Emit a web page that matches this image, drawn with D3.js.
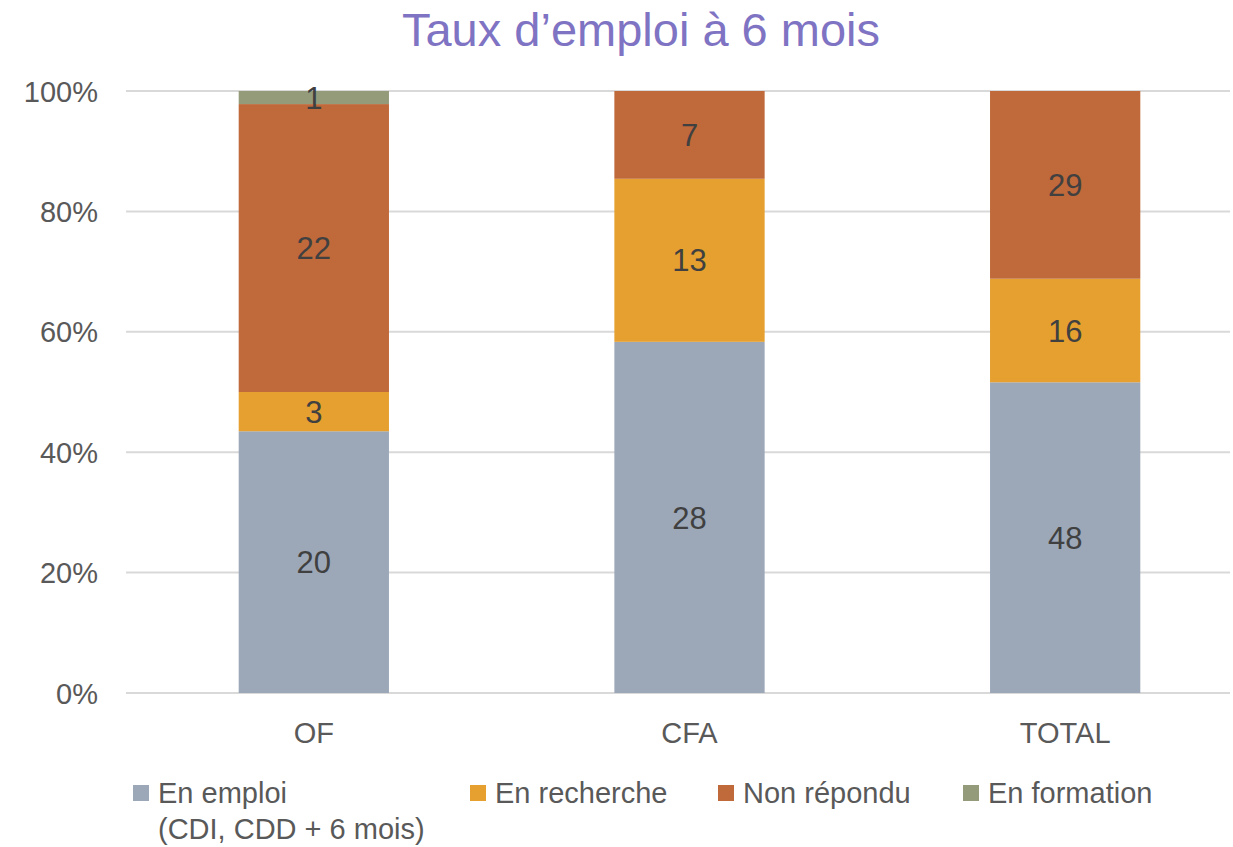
<!doctype html>
<html lang="fr">
<head>
<meta charset="utf-8">
<title>Taux d'emploi à 6 mois</title>
<style>
html, body { margin: 0; padding: 0; background: #fff; overflow: hidden; }
svg { display: block; font-family: 'Liberation Sans', Arial, sans-serif; }
.grid line { stroke: #d9d9d9; stroke-width: 2px; }
.tick-label { fill: #595959; font-size: 29px; }
.seg-label { fill: #404040; font-size: 31px; }
.legend text { fill: #595959; font-size: 29px; }
</style>
</head>
<body>
<div id="chart"></div>
<script src="https://cdnjs.cloudflare.com/ajax/libs/d3/7.8.5/d3.min.js"></script>
<script>
// data
var categories = ['OF', 'CFA', 'TOTAL'];
var seriesNames = ['En emploi', 'En recherche', 'Non répondu', 'En formation'];
var enEmploi = [20, 28, 48];
var enRecherche = [3, 13, 16];
var nonRepondu = [22, 7, 29];
var enFormation = [1, 0, 0];
var yTicks = [0, 0.2, 0.4, 0.6, 0.8, 1];
var colors = ['#9ca8b8', '#e6a02f', '#c0693a', '#949b7b'];

var W = 1233, H = 847;
var margin = { left: 126, right: -20, top: 91, bottom: 154 };

var rows = categories.map(function (c, i) {
	var r = { cat: c };
	r[seriesNames[0]] = enEmploi[i];
	r[seriesNames[1]] = enRecherche[i];
	r[seriesNames[2]] = nonRepondu[i];
	r[seriesNames[3]] = enFormation[i];
	return r;
});

var stack = d3.stack().keys(seriesNames).offset(d3.stackOffsetExpand);
var layers = stack(rows);

var x = d3.scaleBand()
	.domain(categories)
	.range([margin.left, W - margin.right])
	.paddingInner(0.6)
	.paddingOuter(0.3);

var y = d3.scaleLinear().domain([0, 1]).range([H - margin.bottom, margin.top]);

var svg = d3.select('#chart').append('svg').attr('width', W).attr('height', H);

// title
svg.append('text')
	.attr('x', 641).attr('y', 46)
	.attr('text-anchor', 'middle')
	.attr('fill', '#7f73c3')
	.style('font-size', '47px')
	.text('Taux d\u2019emploi à 6 mois');

// gridlines
svg.append('g').attr('class', 'grid')
	.selectAll('line').data(yTicks).enter()
	.append('line')
	.attr('x1', margin.left).attr('x2', 1230)
	.attr('y1', function (d) { return y(d); })
	.attr('y2', function (d) { return y(d); });

// y axis labels
var yAxis = d3.axisLeft(y).tickValues(yTicks).tickFormat(d3.format('.0%')).tickSize(0).tickPadding(0);
var ya = svg.append('g').attr('transform', 'translate(98,0)').call(yAxis);
ya.select('.domain').remove();
ya.selectAll('text').attr('class', 'tick-label').attr('font-family', null).attr('font-size', null).attr('dy', '0.35em');

// x axis labels
var xAxis = d3.axisBottom(x).tickSize(0).tickPadding(0);
var xa = svg.append('g').attr('transform', 'translate(0,' + 743 + ')').call(xAxis);
xa.select('.domain').remove();
xa.selectAll('text').attr('class', 'tick-label').attr('font-family', null).attr('font-size', null).attr('dy', 0);

// bars
var g = svg.append('g');
layers.forEach(function (layer, li) {
	g.selectAll('rect.s' + li).data(layer).enter()
		.append('rect')
		.attr('x', function (d) { return x(d.data.cat); })
		.attr('width', x.bandwidth())
		.attr('y', function (d) { return y(d[1]); })
		.attr('height', function (d) { return y(d[0]) - y(d[1]); })
		.attr('fill', colors[li]);
});

// segment labels
layers.forEach(function (layer) {
	g.selectAll(null).data(layer.filter(function (d) { return d.data[layer.key] > 0; })).enter()
		.append('text')
		.attr('class', 'seg-label')
		.attr('x', function (d) { return x(d.data.cat) + x.bandwidth() / 2; })
		.attr('y', function (d) { return (y(d[0]) + y(d[1])) / 2; })
		.attr('dy', '0.36em')
		.attr('text-anchor', 'middle')
		.text(function (d) { return d.data[layer.key]; });
});

// legend
var legendPos = [133, 470, 718, 963];
var lg = svg.append('g').attr('class', 'legend');
seriesNames.forEach(function (name, i) {
	var item = lg.append('g').attr('transform', 'translate(' + legendPos[i] + ',793)');
	item.append('rect').attr('x', 0).attr('y', -8).attr('width', 16).attr('height', 16).attr('fill', colors[i]);
	item.append('text').attr('x', 25).attr('y', 0).attr('dy', '0.35em').text(name);
	if (i === 0) {
		item.append('text').attr('x', 25).attr('y', 36).attr('dy', '0.35em').text('(CDI, CDD + 6 mois)');
	}
});
</script>
</body>
</html>
